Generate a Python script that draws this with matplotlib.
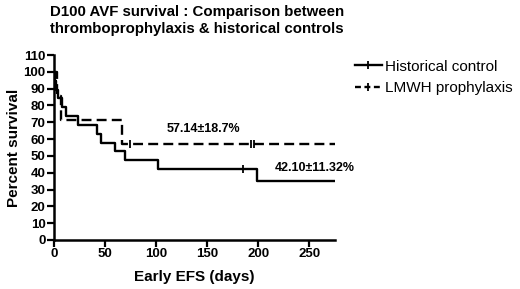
import matplotlib
matplotlib.use("Agg")
import matplotlib.pyplot as plt
from matplotlib.lines import Line2D

plt.rcParams['font.family'] = ['Liberation Sans', 'DejaVu Sans']

# Kaplan-Meier steps
hist_days = [0, 1, 2, 4, 8, 12, 23, 42, 46, 60, 69, 102, 199, 275]
hist_surv = [100, 94.74, 89.47, 84.21, 78.95, 73.68, 68.42, 63.16, 57.89,
             52.63, 47.37, 42.11, 35.09, 35.09]
hist_cens_days = [185]
hist_cens_surv = [42.11]

lmwh_days = [0, 3, 7, 67, 275]
lmwh_surv = [100, 85.71, 71.43, 57.14, 57.14]
lmwh_cens_days = [74, 193, 196]
lmwh_cens_surv = [57.14, 57.14, 57.14]

labels = ['Historical control', 'LMWH prophylaxis']
title = 'D100 AVF survival : Comparison between\nthromboprophylaxis & historical controls'

fig = plt.figure(figsize=(5.2, 2.89), dpi=100)
ax = fig.add_axes([54/520, 49/289, 281/520, 185/289])

lw = 1.7
ax.step(hist_days, hist_surv, where='post', color='black', lw=lw)
ax.plot(hist_cens_days, hist_cens_surv, ls='none', marker='|', ms=6,
        mew=1.3, color='black')
ax.step(lmwh_days, lmwh_surv, where='post', color='black', lw=lw,
        dashes=(4.2, 2.2))
ax.plot(lmwh_cens_days, lmwh_cens_surv, ls='none', marker='|', ms=6,
        mew=1.3, color='black')

ax.text(146, 66, '57.14\u00b118.7%', fontsize=9, fontweight='bold',
        ha='center', va='center')
ax.text(216, 43, '42.10\u00b111.32%', fontsize=9, fontweight='bold',
        ha='left', va='center')

ax.set_xlim(0, 275)
ax.set_ylim(0, 110)
ax.set_xticks(range(0, 251, 50))
ax.set_yticks(range(0, 111, 10))
ax.tick_params(direction='out', length=5, width=1.6, labelsize=9.5, pad=1)
for lab in ax.get_xticklabels() + ax.get_yticklabels():
    lab.set_fontweight('bold')
for s in ['top', 'right']:
    ax.spines[s].set_visible(False)
for s in ['left', 'bottom']:
    ax.spines[s].set_linewidth(1.8)

ax.set_xlabel('Early EFS (days)', fontsize=11, fontweight='bold', labelpad=7)
ax.set_ylabel('Percent survival', fontsize=11, fontweight='bold', labelpad=2)

handles = [
    Line2D([0], [0], color='black', lw=lw, marker='|', ms=6, mew=1.3),
    Line2D([0], [0], color='black', lw=lw, dashes=(2.5, 1.5), marker='|',
           ms=6, mew=1.3),
]
fig.legend(handles, labels, loc='upper left', bbox_to_anchor=(347/520, 1 - 52/289),
           frameon=False, fontsize=11, handlelength=1.8, handletextpad=0.2,
           borderpad=0, labelspacing=0.5)

fig.text(50/520, 1 - 5/289, title, fontsize=10.8, fontweight='bold',
         ha='left', va='top', linespacing=1.25)

fig.savefig('out.png', dpi=100)
